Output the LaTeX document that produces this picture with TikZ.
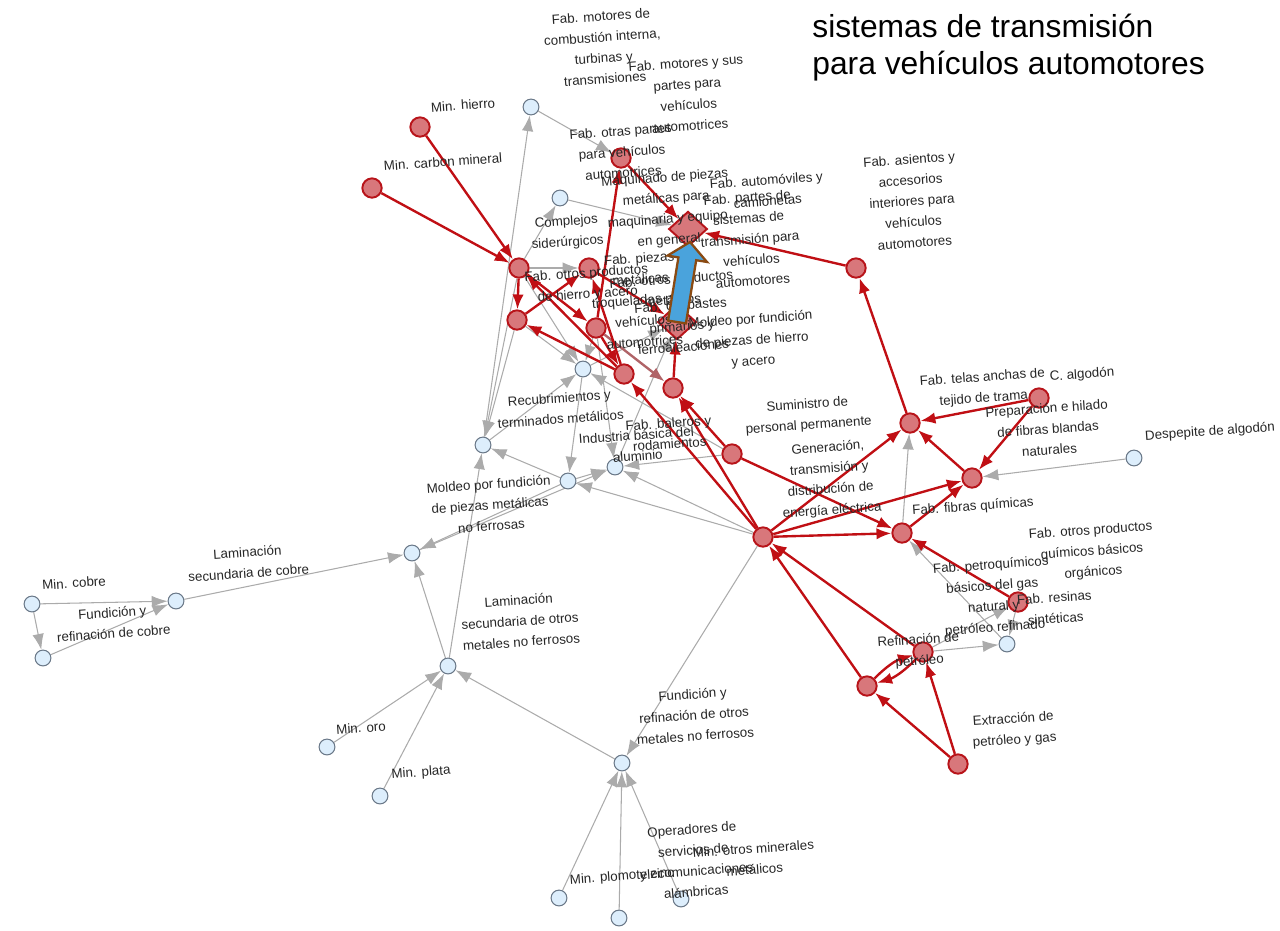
\documentclass[tikz,border=0pt]{standalone}
\usepackage{fontspec}
\setmainfont{Liberation Sans}
\usetikzlibrary{arrows.meta,shapes.geometric}
\pgfdeclarelayer{bg}
\pgfsetlayers{bg,main}
\definecolor{edgered}{HTML}{C00F14}
\definecolor{nodered}{HTML}{D8777B}
\definecolor{bordred}{HTML}{B8141A}
\definecolor{edgegray}{HTML}{ABABAB}
\definecolor{nodeblue}{HTML}{DDEEFC}
\definecolor{bordblue}{HTML}{6A7888}
\definecolor{fadered}{HTML}{B06468}
\definecolor{arrowblue}{HTML}{4AA3DC}
\definecolor{arrowbrown}{HTML}{8A4A12}
\definecolor{lbltext}{HTML}{262626}
\tikzset{
 rn/.style={circle, fill=nodered, draw=bordred, line width=1.1pt, minimum size=11pt, inner sep=0pt},
 bn/.style={circle, fill=nodeblue, draw=bordblue, line width=0.6pt, minimum size=9pt, inner sep=0pt},
 dia/.style={diamond, fill=nodered, draw=bordred, line width=1.1pt, minimum width=22pt, minimum height=20pt, inner sep=0pt},
 gE/.style={color=edgegray, line width=0.6pt, -{Latex[length=9pt,width=6.5pt]}},
 rE/.style={color=edgered, line width=1.35pt, -{Latex[length=8.5pt,width=6.5pt]}},
 fE/.style={color=fadered, line width=1.35pt, -{Latex[length=8.5pt,width=6.5pt]}},
 lbl/.style={font=\fontsize{7.6}{11.9}\selectfont, text=lbltext, align=center, rotate=4, inner sep=0pt},
 ttl/.style={font=\fontsize{18.1}{21}\selectfont, text=black, inner sep=0pt, anchor=base west},
}
\begin{document}
\begin{tikzpicture}[x=0.02cm, y=-0.02cm]
\useasboundingbox (0,0) rectangle (1280,930);

% ---------- light blue nodes
\node[bn] (b1) at (531,107) {};
\node[bn] (b2) at (560,198) {};
\node[bn] (b3) at (583,369) {};
\node[bn] (b4) at (483,445) {};
\node[bn] (b5) at (568,481) {};
\node[bn] (b6) at (615,467) {};
\node[bn] (b7) at (412,553) {};
\node[bn] (b8) at (176,601) {};
\node[bn] (b9) at (32,604) {};
\node[bn] (b10) at (43,658) {};
\node[bn] (b11) at (448,666) {};
\node[bn] (b12) at (327,747) {};
\node[bn] (b13) at (380,796) {};
\node[bn] (b14) at (622,763) {};
\node[bn] (b15) at (559,898) {};
\node[bn] (b16) at (619,918) {};
\node[bn] (b17) at (681,899) {};
\node[bn] (b18) at (1007,644) {};
\node[bn] (b19) at (1134,458) {};

% ---------- red nodes
\node[rn] (r1) at (420,127) {};
\node[rn] (r2) at (372,188) {};
\node[rn] (r3) at (621,158) {};
\node[rn] (r4) at (519,268) {};
\node[rn] (r5) at (589,268) {};
\node[rn] (r6) at (517,320) {};
\node[rn] (r7) at (596,328) {};
\node[rn] (r8) at (624,374) {};
\node[rn] (r9) at (673,388) {};
\node[rn] (r10) at (732,454) {};
\node[rn] (r11) at (763,537) {};
\node[rn] (r12) at (856,268) {};
\node[rn] (r13) at (910,423) {};
\node[rn] (r14) at (1039,398) {};
\node[rn] (r15) at (972,478) {};
\node[rn] (r16) at (902,533) {};
\node[rn] (r17) at (1018,602) {};
\node[rn] (r18) at (923,652) {};
\node[rn] (r19) at (867,686) {};
\node[rn] (r20) at (958,764) {};

% ---------- diamonds
\node[dia] (d1) at (688,229) {};
\node[dia] (d2) at (677,322) {};

% ---------- edges (behind nodes)
\begin{pgfonlayer}{bg}
% gray
\draw[gE] (b4) -- (b1);
\draw[gE] (b1) -- (r3);
\draw[gE] (r4) -- (b2);
\draw[gE] (b2) -- (d1);
\draw[gE] (r4) -- (r5);
\draw[gE] (r4) -- (b3);
\draw[gE] (r6) -- (b3);
\draw[gE] (r4) -- (b4);
\draw[gE] (r6) -- (b4);
\draw[gE] (b4) -- (b3);
\draw[gE] (b3) -- (b5);
\draw[gE] (b5) -- (b4);
\draw[gE] (r7) -- (b6);
\draw[gE] (r7) -- (b3);
\draw[gE] (r10) -- (b3);
\draw[gE] (r10) -- (b6);
\draw[gE] (r11) -- (b5);
\draw[gE] (r11) -- (b6);
\draw[gE] (b5) -- (b6);
\draw[gE] (b7) -- (b6);
\draw[gE] (b5) -- (b7);
\draw[gE] (b6) -- (d2);
\draw[gE] (b3) -- (d2);
\draw[gE] (b8) -- (b7);
\draw[gE] (b11) -- (b7);
\draw[gE] (b11) -- (b4);
\draw[gE] (b9) -- (b8);
\draw[gE] (b10) -- (b8);
\draw[gE] (b9) -- (b10);
\draw[gE] (b12) -- (b11);
\draw[gE] (b13) -- (b11);
\draw[gE] (b14) -- (b11);
\draw[gE] (r11) -- (b14);
\draw[gE] (b15) -- (b14);
\draw[gE] (b16) -- (b14);
\draw[gE] (b17) -- (b14);
\draw[gE] (r18) -- (b18);
\draw[gE] (r17) -- (b18);
\draw[gE] (b18) -- (r16);
\draw[gE] (r18) -- (r17);
\draw[gE] (r16) -- (r13);
\draw[gE] (b19) -- (r15);
% red
\draw[rE] (r1) -- (r4);
\draw[rE] (r2) -- (r4);
\draw[rE] (r3) -- (d1);
\draw[rE] (r12) -- (d1);
\draw[rE] (r13) -- (r12);
\draw[rE] (r14) -- (r13);
\draw[rE] (r14) -- (r15);
\draw[rE] (r15) -- (r13);
\draw[rE] (r16) -- (r15);
\draw[rE] (r11) -- (r13);
\draw[rE] (r11) -- (r15);
\draw[rE] (r11) -- (r16);
\draw[rE] (r10) -- (r16);
\draw[rE] (r17) -- (r16);
\draw[rE] (r18) -- (r11);
\draw[rE] (r19) -- (r11);
\draw[rE] (r20) -- (r18);
\draw[rE] (r20) -- (r19);
\draw[rE] (r18) to[bend left=14] (r19);
\draw[rE] (r19) to[bend left=14] (r18);
\draw[rE] (r11) -- (r8);
\draw[rE] (r11) -- (r9);
\draw[rE] (r10) -- (r9);
\draw[rE] (r9) -- (d2);
\draw[rE] (r5) -- (d2);
\draw[fE] (r7) -- (r9);
\draw[rE] (r7) -- (r3);
\draw[rE] (r4) -- (r6);
\draw[rE] (r6) -- (r5);
\draw[rE] (r4) -- (r7);
\draw[rE] (r8) -- (r4);
\draw[rE] (r8) -- (r6);
\draw[rE] (r8) -- (r5);
\draw[rE] (r7) -- (r8);
\end{pgfonlayer}

% ---------- labels
\node[lbl] (l1) at (603,47.5) {Fab. motores de\\combustión interna,\\turbinas y\\transmisiones};
\node[lbl] (l2) at (688,94.5) {Fab. motores y sus\\partes para\\vehículos\\automotrices};
\node[lbl] (l3) at (463,105) {Min. hierro};
\node[lbl] (l4) at (443,162) {Min. carbon mineral};
\node[lbl] (l5) at (622,152) {Fab. otras partes\\para vehículos\\automotrices};
\node[lbl] (l6) at (667,209.5) {Maquinado de piezas\\metálicas para\\maquinaria y equipo\\en general};
\node[lbl] (l7) at (767,190.5) {Fab. automóviles y\\camionetas};
\node[lbl] (l8) at (750,239) {Fab. partes de\\sistemas de\\transmisión para\\vehículos\\automotores};
\node[lbl] (l9) at (567,232.5) {Complejos\\siderúrgicos};
\node[lbl] (l10) at (587,284.5) {Fab. otros productos\\de hierro y acero};
\node[lbl] (l11) at (642,300) {Fab. piezas\\metálicas\\troqueladas para\\vehículos\\automotrices};
\node[lbl] (l12) at (672,289.5) {Fab. otros productos\\metálicos};
\node[lbl] (l13) at (682,326) {Fab. desbastes\\primarios y\\ferroaleaciones};
\node[lbl] (l14) at (752,341) {Moldeo por fundición\\de piezas de hierro\\y acero};
\node[lbl] (l15) at (560,408.5) {Recubrimientos y\\terminados metálicos};
\node[lbl] (l16) at (669,433.5) {Fab. baleros y\\rodamientos};
\node[lbl] (l17) at (637,445.5) {Industria básica del\\aluminio};
\node[lbl] (l18) at (490,505) {Moldeo por fundición\\de piezas metálicas\\no ferrosas};
\node[lbl] (l19) at (808,415.5) {Suministro de\\personal permanente};
\node[lbl] (l20) at (830,479.5) {Generación,\\transmisión y\\distribución de\\energía eléctrica};
\node[lbl] (l21) at (912,201) {Fab. asientos y\\accesorios\\interiores para\\vehículos\\automotores};
\node[lbl] (l22) at (983,388.5) {Fab. telas anchas de\\tejido de trama};
\node[lbl] (l23) at (1082,375) {C. algodón};
\node[lbl] (l24) at (1048,429) {Preparación e hilado\\de fibras blandas\\naturales};
\node[lbl] (l25) at (1210,432) {Despepite de algodón};
\node[lbl] (l26) at (973,507) {Fab. fibras químicas};
\node[lbl] (l27) at (1092,552) {Fab. otros productos\\químicos básicos\\orgánicos};
\node[lbl] (l28) at (993,597) {Fab. petroquímicos\\básicos del gas\\natural y\\petróleo refinado};
\node[lbl] (l29) at (1055,608) {Fab. resinas\\sintéticas};
\node[lbl] (l30) at (919,651) {Refinación de\\petróleo};
\node[lbl] (l31) at (1014,730) {Extracción de\\petróleo y gas};
\node[lbl] (l32) at (248,562.5) {Laminación\\secundaria de cobre};
\node[lbl] (l33) at (74,583) {Min. cobre};
\node[lbl] (l34) at (113,623) {Fundición y\\refinación de cobre};
\node[lbl] (l35) at (520,621) {Laminación\\secundaria de otros\\metales no ferrosos};
\node[lbl] (l36) at (361,728) {Min. oro};
\node[lbl] (l37) at (421,773) {Min. plata};
\node[lbl] (l38) at (694,715) {Fundición y\\refinación de otros\\metales no ferrosos};
\node[lbl] (l39) at (694,860.5) {Operadores de\\servicios de\\telecomunicaciones\\alámbricas};
\node[lbl] (l40) at (754,859) {Min. otros minerales\\metálicos};
\node[lbl] (l41) at (622,877) {Min. plomo y zinc};

% ---------- title
\node[ttl] (t1) at (812,37) {sistemas de transmisión};
\node[ttl] (t2) at (812,74) {para vehículos automotores};

% ---------- highlight block arrow from d2 to d1
\draw[fill=arrowblue, draw=arrowbrown, line width=1.3pt, line join=miter]
 (668.1,320.6) -- (685.9,323.4) -- (696.2,260.2) -- (707.0,262.0) -- (690.0,242.0)
 -- (667.6,255.6) -- (678.4,257.4) -- cycle;
\end{tikzpicture}
\end{document}
